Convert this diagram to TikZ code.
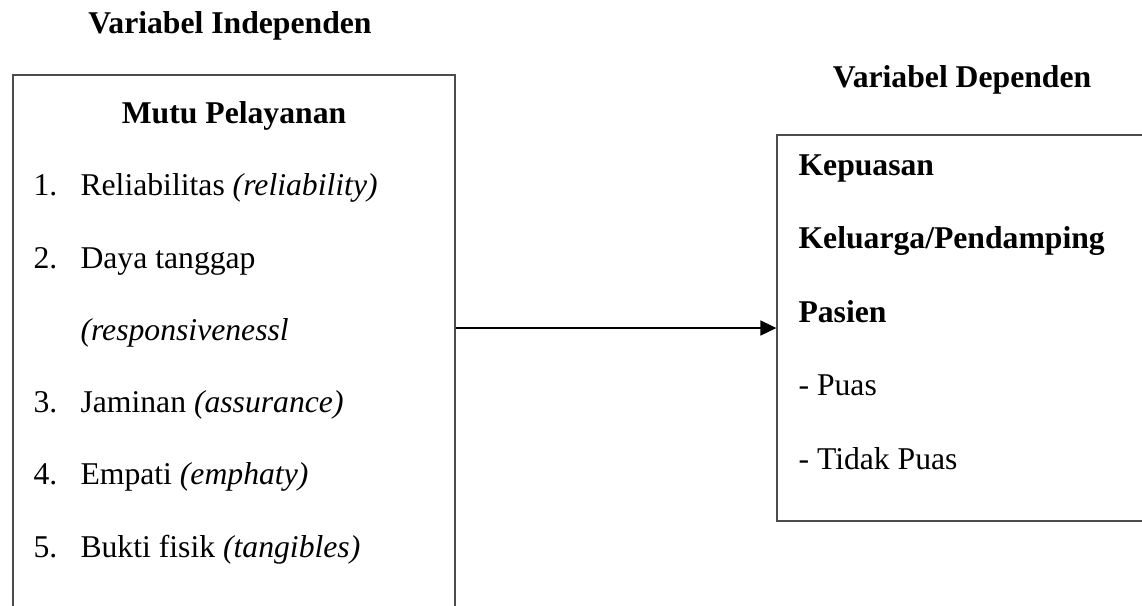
\documentclass[tikz,border=0pt]{standalone}
\usepackage{fontspec}
\setmainfont{Liberation Serif}
\usetikzlibrary{arrows.meta}
\usetikzlibrary{positioning}

\begin{document}
\begin{tikzpicture}[x=0.3788pt, y=-0.3788pt,
every node/.style={inner sep=0pt, font=\fontsize{12}{14}\selectfont},
box/.style={rectangle, draw=black!70, line width=0.5pt},
txt/.style={anchor=base west},
judul/.style={anchor=base, font=\fontsize{12}{14}\selectfont\bfseries}]
\useasboundingbox (0,0) rectangle (1142,605);
\clip (0,0) rectangle (1142,605);
\node (mutu) [box, minimum width=167.4pt, minimum height=217.8pt] at (234, 362.5) {};
\node (kepuasan) [box, minimum width=145.1pt, minimum height=146.2pt] at (968.5, 328) {};
\node (judulind) [judul] at (230, 33) {Variabel Independen};
\node (juduldep) [judul] at (962, 87) {Variabel Dependen};
\node (mutujudul) [judul] at (234, 123) {Mutu Pelayanan};
\node (n1) [txt] at (33, 195) {1.};
\node (i1) [txt] at (80, 195) {Reliabilitas \textit{(reliability)}};
\node (n2) [txt] at (33, 268) {2.};
\node (i2) [txt] at (80, 268) {Daya tanggap};
\node (i2b) [txt] at (80, 340) {\textit{(responsivenessl}};
\node (n3) [txt] at (33, 412) {3.};
\node (i3) [txt] at (80, 412) {Jaminan \textit{(assurance)}};
\node (n4) [txt] at (33, 484) {4.};
\node (i4) [txt] at (80, 484) {Empati \textit{(emphaty)}};
\node (n5) [txt] at (33, 557) {5.};
\node (i5) [txt] at (80, 557) {Bukti fisik \textit{(tangibles)}};
\node (k1) [txt, font=\fontsize{12}{14}\selectfont\bfseries] at (798, 175) {Kepuasan};
\node (k2) [txt, font=\fontsize{12}{14}\selectfont\bfseries] at (798, 248.5) {Keluarga/Pendamping};
\node (k3) [txt, font=\fontsize{12}{14}\selectfont\bfseries] at (798, 322) {Pasien};
\node (p1) [txt] at (798, 395.5) {- Puas};
\node (p2) [txt] at (798, 469) {- Tidak Puas};
\draw [line width=0.45pt, -{Triangle[length=6pt, width=5.7pt]}] (mutu.east |- kepuasan.west) -- (kepuasan.west);
\end{tikzpicture}
\end{document}
